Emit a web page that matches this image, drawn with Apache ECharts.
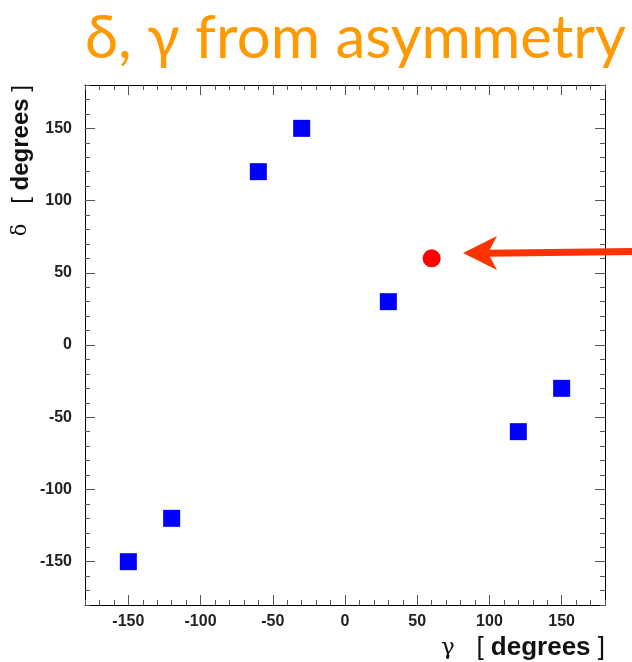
<!DOCTYPE html>
<html>
<head>
<meta charset="utf-8">
<script src="https://cdn.jsdelivr.net/npm/echarts@6/dist/echarts.min.js"></script>
<style>
  html, body { margin: 0; padding: 0; background: #fff; }
  #main { width: 632px; height: 662px; }
</style>
</head>
<body>
<div id="main"></div>
<script>
// data
var gammaBlue = [-150, -120, -60, -30, 30, 120, 150];
var deltaBlue = [-150, -120, 120, 150, 30, -60, -30];
var gammaRed = [60];
var deltaRed = [60];
var majorTicks = [-150, -100, -50, 0, 50, 100, 150];

var chart = echarts.init(document.getElementById("main"));

var tickColor = '#555';

function pairs(xs, ys) {
    var out = [];
    for (var i = 0; i < xs.length; i++) out.push([xs[i], ys[i]]);
    return out;
}

// one axis for the minor (every 10) ticks, one for the major ticks + labels
function minorAxis(pos, showLine) {
    return {
        type: 'value', position: pos, min: -180, max: 180, interval: 10,
        axisLine: { show: showLine, onZero: false, lineStyle: { color: '#000', width: 1 } },
        axisTick: { show: true, inside: true, length: 5, lineStyle: { color: tickColor } },
        axisLabel: { show: false },
        splitLine: { show: false }
    };
}
function majorAxis(pos, labels) {
    return {
        type: 'value', position: pos, min: -180, max: 180,
        axisLine: { show: false, onZero: false },
        axisTick: { show: true, inside: true, length: 10, customValues: majorTicks, lineStyle: { color: tickColor } },
        axisLabel: {
            show: labels, customValues: majorTicks,
            fontFamily: 'Liberation Sans, Arial', fontWeight: 'bold', fontSize: 16, color: '#222',
            margin: pos === 'left' ? 13 : 9
        },
        splitLine: { show: false }
    };
}

function nameRich(size) {
    return {
        g: { fontFamily: 'DejaVu Serif, Liberation Serif', fontSize: size - 3, color: '#111' },
        b: { fontFamily: 'Liberation Sans', fontSize: size, color: '#111' },
        d: { fontFamily: 'Liberation Sans', fontWeight: 'bold', fontSize: size, color: '#111' }
    };
}

var xBottom = majorAxis('bottom', true);
xBottom.name = '{g|γ}{b|   [ }{d|degrees}{b| ]}';
xBottom.nameLocation = 'end';
xBottom.nameGap = 0;
xBottom.nameTextStyle = {
    align: 'right', verticalAlign: 'top', padding: [30, 0, 0, 0],
    rich: nameRich(26)
};

var yLeft = majorAxis('left', true);
yLeft.name = '{g|δ}{b|   [ }{d|degrees}{b| ]}';
yLeft.nameLocation = 'end';
yLeft.nameGap = 0;
yLeft.nameRotate = 90;
yLeft.nameTextStyle = {
    align: 'right', verticalAlign: 'bottom', padding: [0, 0, 52, 0],
    rich: nameRich(24)
};

option = {
    backgroundColor: '#fff',
    animation: false,
    title: {
        text: 'δ, γ from asymmetry',
        left: 80,
        top: 4,
        textStyle: { fontFamily: 'Lato', fontWeight: 'normal', fontSize: 60, color: '#FF9900' }
    },
    grid: { left: 85, right: 27, top: 85, bottom: 57, containLabel: false },
    xAxis: [minorAxis('bottom', true), xBottom, minorAxis('top', true), majorAxis('top', false)],
    yAxis: [minorAxis('left', true), yLeft, minorAxis('right', true), majorAxis('right', false)],
    series: [{
        type: 'scatter',
        symbol: 'rect',
        symbolSize: 17,
        itemStyle: { color: '#0000FF', opacity: 1 },
        data: pairs(gammaBlue, deltaBlue)
    }, {
        type: 'scatter',
        symbol: 'circle',
        symbolSize: 18,
        itemStyle: { color: '#FF0000', opacity: 1 },
        data: pairs(gammaRed, deltaRed)
    }],
    graphic: [{
        type: 'line',
        shape: { x1: 632, y1: 251.5, x2: 488, y2: 253.2 },
        style: { stroke: '#FF3300', lineWidth: 7 },
        z: 100
    }, {
        type: 'polygon',
        shape: { points: [[463, 253], [497, 236], [488, 253], [497, 270]] },
        style: { fill: '#FF3300' },
        z: 100
    }]
};
chart.setOption(option);

window.onresize = function() {
    chart.resize();
};
</script>
</body>
</html>
